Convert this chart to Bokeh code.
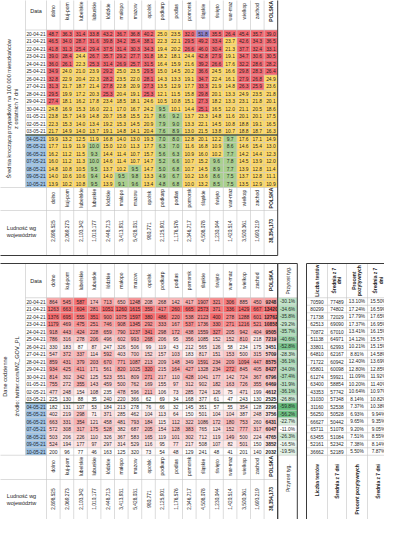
import numpy as np
from bokeh.plotting import figure
from bokeh.models import Range1d
from bokeh.embed import file_html
from bokeh.resources import INLINE
from bokeh.core.properties import value

# ---------------- data ----------------
dates = ["20-04-21", "21-04-21", "22-04-21", "23-04-21", "24-04-21", "25-04-21", "26-04-21",
         "27-04-21", "28-04-21", "29-04-21", "30-04-21", "01-05-21", "02-05-21", "03-05-21",
         "04-05-21", "05-05-21", "06-05-21", "07-05-21", "08-05-21", "09-05-21", "10-05-21"]
regions = ["dolno", "kuj-pom", "lubelskie", "lubuskie", "łódzkie", "małopo", "mazow", "opolsk",
           "podkarp", "podlas", "pomorsk", "śląskie", "święto", "war-maz", "wielkop", "zachod", "POLSKA"]
population = ["2,898,525", "2,069,273", "2,103,342", "1,010,177", "2,448,713", "3,413,931",
              "5,428,031", "980,771", "2,125,901", "1,176,576", "2,346,717", "4,508,078",
              "1,230,044", "1,420,514", "3,500,361", "1,693,219", "38,354,173"]

# 7-day average of cases per 100 000 inhabitants
avg_dolno = [48.7, 46.5, 41.8, 39.0, 36.0, 34.9, 32.8, 31.3, 29.5, 27.4, 24.8, 23.8, 22.3, 21.7, 19.9, 17.7, 16.2, 16.0, 14.8, 14.0, 13.9]
avg_kujpom = [36.3, 34.0, 31.3, 28.4, 26.1, 24.0, 22.9, 21.7, 19.9, 18.1, 16.9, 15.7, 15.3, 14.9, 13.2, 11.9, 11.2, 11.2, 10.8, 10.6, 10.2]
avg_lubel = [31.4, 28.7, 25.4, 24.4, 22.3, 21.0, 20.4, 18.7, 17.2, 16.2, 15.3, 14.9, 14.0, 14.0, 12.5, 11.9, 11.5, 11.3, 10.5, 10.6, 10.8]
avg_lubus = [33.8, 31.6, 29.4, 26.7, 25.3, 23.9, 22.3, 21.4, 20.3, 17.8, 16.0, 14.8, 13.4, 13.7, 11.9, 9.98, 9.3, 9.97, 9.5, 9.4, 9.5]
avg_lodz = [43.2, 39.8, 37.5, 35.7, 31.4, 29.2, 28.2, 27.8, 25.3, 23.4, 22.1, 20.7, 19.2, 19.1, 16.8, 15.0, 14.4, 14.6, 13.7, 14.0, 13.9]
avg_malop = [36.7, 34.2, 31.4, 29.2, 26.9, 25.0, 23.5, 22.8, 20.4, 18.5, 17.0, 15.8, 15.3, 14.8, 14.0, 12.0, 11.4, 11.4, 10.2, 9.5, 9.1]
avg_mazow = [36.8, 35.4, 30.3, 27.7, 25.7, 23.5, 22.0, 20.9, 19.1, 18.1, 16.7, 15.5, 14.5, 14.1, 13.0, 11.3, 10.7, 10.7, 9.5, 9.8, 9.6]
avg_opol = [40.2, 38.1, 34.3, 31.8, 31.5, 29.5, 28.1, 27.3, 25.3, 24.6, 24.2, 21.7, 20.9, 20.4, 19.3, 17.7, 15.7, 14.7, 14.7, 13.3, 13.4]
avg_podkarp = [25.0, 22.3, 19.4, 18.2, 16.4, 15.0, 14.3, 13.5, 12.1, 10.5, 9.5, 8.6, 7.9, 7.6, 7.0, 6.3, 5.6, 5.2, 5.0, 4.9, 4.8]
avg_podlas = [23.5, 22.1, 20.2, 18.1, 15.9, 14.5, 13.3, 12.9, 11.5, 10.8, 10.1, 9.2, 9.0, 8.9, 8.0, 7.0, 6.3, 6.6, 6.8, 6.7, 6.8]
avg_pomorsk = [32.0, 29.5, 26.6, 24.4, 21.6, 20.2, 19.1, 17.7, 15.8, 15.1, 14.4, 13.7, 13.3, 13.0, 12.8, 11.6, 10.9, 10.7, 10.7, 10.2, 10.02]
avg_slask = [51.8, 49.2, 46.0, 42.8, 39.2, 36.6, 34.7, 33.3, 29.8, 27.3, 25.1, 23.3, 22.1, 21.5, 20.1, 16.8, 16.0, 15.2, 14.5, 13.6, 13.2]
avg_swieto = [35.5, 33.4, 30.4, 27.9, 26.6, 24.5, 22.4, 21.9, 20.1, 18.2, 16.5, 14.8, 14.5, 13.8, 12.2, 10.9, 10.2, 9.6, 8.9, 8.6, 8.5]
avg_warmaz = [26.4, 23.7, 21.3, 19.1, 17.6, 16.6, 16.1, 14.8, 13.3, 13.3, 12.0, 11.6, 10.8, 10.7, 9.7, 8.6, 7.7, 7.8, 7.7, 7.5, 7.5]
avg_wielkop = [45.4, 42.6, 37.7, 34.7, 32.2, 29.8, 27.9, 26.3, 24.9, 23.1, 21.1, 20.1, 18.8, 18.8, 17.6, 14.6, 14.2, 14.5, 13.9, 13.7, 13.5]
avg_zachod = [35.7, 34.3, 32.4, 30.6, 28.6, 28.3, 26.8, 25.9, 23.5, 21.8, 20.5, 20.1, 19.1, 18.7, 17.1, 15.4, 14.4, 13.9, 12.8, 12.8, 12.9]
avg_polska = [39.0, 36.5, 33.1, 30.5, 28.2, 26.4, 24.9, 23.6, 21.8, 20.1, 18.6, 17.5, 16.5, 16.3, 14.9, 13.0, 12.3, 12.0, 11.4, 11.1, 10.9]

# daily cases
cases_dolno = [864, 1263, 1376, 1179, 918, 786, 330, 547, 859, 934, 814, 755, 477, 225, 182, 402, 663, 572, 503, 524, 200]
cases_kujpom = [545, 663, 695, 469, 443, 316, 183, 372, 431, 425, 302, 272, 248, 130, 131, 219, 331, 308, 206, 194, 96]
cases_lubel = [587, 604, 555, 475, 424, 278, 87, 337, 379, 411, 342, 355, 154, 88, 107, 298, 354, 317, 226, 177, 77]
cases_lubus = [174, 281, 351, 251, 228, 206, 87, 114, 203, 171, 125, 143, 108, 35, 53, 71, 121, 175, 110, 97, 46]
cases_lodz = [713, 1051, 900, 746, 659, 496, 247, 592, 670, 561, 523, 459, 235, 240, 184, 371, 458, 528, 326, 297, 163]
cases_malop = [650, 1260, 1075, 908, 790, 602, 326, 403, 771, 820, 551, 500, 478, 220, 213, 285, 481, 382, 367, 314, 125]
cases_mazow = [1248, 1615, 1597, 1345, 1237, 993, 506, 700, 1087, 1025, 809, 762, 596, 366, 278, 462, 793, 687, 583, 529, 320]
cases_opol = [208, 359, 380, 292, 341, 268, 99, 152, 213, 320, 271, 169, 211, 62, 76, 104, 184, 205, 165, 116, 73]
cases_podkarp = [268, 417, 486, 333, 298, 206, 119, 157, 209, 215, 217, 155, 106, 69, 66, 113, 115, 154, 119, 95, 54]
cases_podlas = [142, 260, 220, 167, 172, 95, 43, 103, 148, 164, 110, 97, 73, 34, 32, 64, 112, 128, 101, 77, 48]
cases_pomorsk = [417, 665, 538, 537, 438, 356, 212, 183, 349, 427, 428, 312, 285, 168, 145, 150, 322, 383, 302, 217, 129]
cases_slask = [1907, 2573, 2123, 1736, 1559, 1085, 565, 817, 1591, 1328, 1041, 902, 724, 377, 351, 501, 1086, 765, 712, 508, 241]
cases_swieto = [321, 371, 400, 330, 327, 152, 126, 151, 234, 234, 177, 182, 126, 61, 57, 104, 172, 124, 119, 107, 48]
cases_warmaz = [306, 336, 278, 271, 205, 152, 58, 153, 209, 272, 142, 163, 75, 47, 55, 104, 180, 152, 149, 82, 41]
cases_wielkop = [885, 1429, 1288, 1216, 942, 810, 234, 500, 1094, 845, 724, 726, 471, 243, 354, 387, 753, 777, 500, 501, 201]
cases_zachod = [450, 667, 601, 521, 404, 218, 175, 315, 447, 405, 367, 355, 199, 130, 128, 248, 260, 317, 224, 150, 140]
cases_polska = [9248, 13420, 12762, 10858, 9505, 7219, 3451, 5709, 8575, 8427, 6796, 6469, 4612, 2525, 2296, 3756, 6431, 6047, 4765, 3852, 2032]
weekly_change = [-30.1, -34.6, -35.8, -29.2, -35.7, -40.6, -52.8, -28.3, -36.1, -34.0, -37.4, -31.9, -36.1, -26.8,
                 -59.8, -56.2, -22.7, -11.0, -26.3, -16.5, -19.5]

# tests
tests = [70590, 80299, 71738, 62513, 70872, 51138, 33801, 64810, 71722, 65801, 61274, 63400, 43353, 31030,
         31160, 56250, 66627, 65711, 63455, 52161, 36662]
tests_avg7 = [77489, 74802, 72029, 69090, 67010, 64971, 62993, 62167, 60942, 60098, 59921, 58854, 57742, 57348,
              52538, 50528, 50442, 51078, 51084, 52342, 52189]
positive_pct = [13.10, 17.24, 17.79, 17.37, 13.41, 14.12, 10.21, 8.81, 12.40, 12.80, 11.09, 10.20, 10.64, 8.14,
                7.37, 6.93, 9.65, 9.20, 7.51, 7.38, 5.50]
positive_avg7 = [15.50, 16.59, 17.65, 16.95, 16.15, 15.57, 15.15, 14.58, 13.69, 12.85, 11.92, 11.40, 10.97, 10.82,
                 10.38, 9.94, 9.35, 9.05, 8.55, 8.14, 7.87]

avg_cols = [avg_dolno, avg_kujpom, avg_lubel, avg_lubus, avg_lodz, avg_malop, avg_mazow, avg_opol, avg_podkarp,
            avg_podlas, avg_pomorsk, avg_slask, avg_swieto, avg_warmaz, avg_wielkop, avg_zachod, avg_polska]
case_cols = [cases_dolno, cases_kujpom, cases_lubel, cases_lubus, cases_lodz, cases_malop, cases_mazow, cases_opol,
             cases_podkarp, cases_podlas, cases_pomorsk, cases_slask, cases_swieto, cases_warmaz, cases_wielkop,
             cases_zachod, cases_polska]

# ---------------- layout ----------------
FONT = value("Liberation Sans")
TXT = "#262626"
GRID = "#c4c4c4"
DARK = "#3a3a3a"
X_LBL, X_DATE, X_COL0, COL_W = 4.0, 33.0, 54.0, 13.6
ROW_H = 7.5
NC, NR = len(regions), len(dates)
X_END = X_COL0 + COL_W * NC
X_PRZ = X_END + 19.6
SMALL_X = [314.0, 335.0, 354.0, 375.0, 397.0]

p = figure(width=384, height=519, x_range=Range1d(8, 392), y_range=Range1d(527, 8),
           output_backend="svg", toolbar_location=None, min_border=0,
           x_axis_location=None, y_axis_location=None)
p.xgrid.visible = False
p.ygrid.visible = False
p.outline_line_color = None
p.background_fill_color = "white"
p.border_fill_color = "white"


def mix(c1, c2, t):
    r = [int(round(a + (b - a) * t)) for a, b in zip(c1, c2)]
    return "#%02x%02x%02x" % tuple(r)


def avg_color(v):
    if v > 50:
        return "#9181cc"
    if v > 25:
        return "#f4666e"
    if v < 10:
        return "#a9d08e"
    return "#ffd966"


def text(xs, ys, ts, size="5px", align="center", angle=0.0, bold=False, color=TXT):
    p.text(x=xs, y=ys, text=ts, text_font=FONT, text_font_size=size, text_align=align,
           text_baseline="middle", angle=angle, text_color=color,
           text_font_style="bold" if bold else "normal")


def hlines(y_list, x0, x1, color=GRID, width=0.6):
    p.segment(x0=[x0] * len(y_list), x1=[x1] * len(y_list), y0=y_list, y1=y_list,
              line_color=color, line_width=width)


def vlines(x_list, y0, y1, color=GRID, width=0.6):
    p.segment(x0=x_list, x1=x_list, y0=[y0] * len(x_list), y1=[y1] * len(x_list),
              line_color=color, line_width=width)


def box(x0, y0, x1, y1):
    p.quad(left=x0, right=x1, top=y0, bottom=y1, fill_color=None, line_color=DARK, line_width=1)


def main_table(top, hdr_b, names_b, pop_b, values, colors, fmt, bold_last, left_lines):
    rows_b = hdr_b + ROW_H * NR
    L, R, T, B, C = [], [], [], [], []
    for j in range(NC):
        for i in range(NR):
            L.append(X_COL0 + COL_W * j)
            R.append(X_COL0 + COL_W * (j + 1))
            T.append(hdr_b + ROW_H * i)
            B.append(hdr_b + ROW_H * (i + 1))
            C.append(colors[j][i])
    p.quad(left=L, right=R, top=T, bottom=B, fill_color=C, line_color=None)
    # blue date cells (04-05 onward)
    blue_i = [i for i, d in enumerate(dates) if d.endswith("-05-21") and int(d[:2]) >= 4]
    p.quad(left=[X_DATE] * len(blue_i), right=[X_COL0] * len(blue_i),
           top=[hdr_b + ROW_H * i for i in blue_i], bottom=[hdr_b + ROW_H * (i + 1) for i in blue_i],
           fill_color="#9dc3e6", line_color=None)
    # grid
    hlines([hdr_b + ROW_H * k for k in range(NR)], X_DATE, X_END)
    hlines([rows_b, names_b], X_LBL, X_END)
    vlines([X_DATE], top, rows_b)
    vlines([X_COL0 + COL_W * j for j in range(NC)], top, pop_b)
    # thick separator before 04-05
    sep = hdr_b + ROW_H * dates.index("04-05-21")
    hlines([sep], X_DATE, X_END, color="#4d5a4a", width=1.6)
    box(X_LBL, top, X_END, pop_b)
    # headers
    cx = [X_COL0 + COL_W * (j + 0.5) for j in range(NC)]
    text([X_DATE + 10.5], [(top + hdr_b) / 2], ["Data"], size="5.5px")
    text(cx[:-1], [(top + hdr_b) / 2] * (NC - 1), regions[:-1], angle=np.pi / 2)
    text(cx[-1:], [(top + hdr_b) / 2], regions[-1:], angle=np.pi / 2, bold=True)
    text(cx[:-1], [(rows_b + names_b) / 2 - 1] * (NC - 1), regions[:-1], angle=np.pi / 2)
    text(cx[-1:], [(rows_b + names_b) / 2 - 1], regions[-1:], angle=np.pi / 2, bold=True)
    yp = (names_b + pop_b) / 2 - 2
    text(cx[:-1], [yp] * (NC - 1), population[:-1], size="4.8px", angle=np.pi / 2)
    text(cx[-1:], [yp], population[-1:], size="4.8px", angle=np.pi / 2, bold=True)
    text([X_LBL + 25, X_LBL + 25], [yp - 3.5, yp + 3.5], ["Ludność wg", "województw"], size="5.5px")
    # dates
    text([X_DATE + 10.5] * NR, [hdr_b + ROW_H * (i + 0.5) for i in range(NR)], dates, size="4.8px")
    # values
    for j in range(NC):
        text([cx[j]] * NR, [hdr_b + ROW_H * (i + 0.5) for i in range(NR)], [fmt(v) for v in values[j]],
             size="4.9px", bold=(bold_last and j == NC - 1))
    # left label
    mid = (hdr_b + rows_b) / 2
    text([X_LBL + left_lines[0][0], X_LBL + left_lines[1][0]], [mid, mid],
         [left_lines[0][1], left_lines[1][1]], size="5.6px", angle=np.pi / 2)
    return rows_b


# ---- table 1: 7-day average per 100k ----
colors1 = [[avg_color(v) for v in col] for col in avg_cols]
main_table(0.0, 37.5, 218.0, 263.0, avg_cols, colors1, lambda v: f"{v:.1f}", False,
           [(12.0, "Średnia krocząca przypadków na 100 000 mieszkańców"), (19.5, "z ostatnich 7 dni")])

# ---- table 2: daily cases ----
RED = (248, 105, 107)
WHITE = (255, 255, 255)
colors2 = []
for col in case_cols:
    lo, hi = min(col), max(col)
    colors2.append([mix(WHITE, RED, (v - lo) / (hi - lo)) for v in col])
T2, H2 = 271.0, 305.25
rows_b2 = main_table(T2, H2, 487.0, 530.0, case_cols, colors2, lambda v: f"{v}", True,
                     [(8.5, "Dane codzienne"), (20.0, "źródło: twitter.com/MZ_GOV_PL")])

# weekly change column
GREEN = (99, 190, 123)
lo, hi = min(weekly_change), max(weekly_change)
gcol = [mix(WHITE, GREEN, (hi - v) / (hi - lo)) for v in weekly_change]
p.quad(left=[X_END] * NR, right=[X_PRZ] * NR, top=[H2 + ROW_H * i for i in range(NR)],
       bottom=[H2 + ROW_H * (i + 1) for i in range(NR)], fill_color=gcol, line_color=None)
hlines([H2 + ROW_H * k for k in range(NR + 1)], X_END, X_PRZ)
box(X_END, T2, X_PRZ, 530.0)
xm = (X_END + X_PRZ) / 2
text([xm] * NR, [H2 + ROW_H * (i + 0.5) for i in range(NR)], [f"{v:.1f}%" for v in weekly_change], size="4.8px")
text([xm], [(T2 + H2) / 2], ["Przyrost tyg."], size="5px", angle=np.pi / 2)
text([xm], [rows_b2 + 9], ["Przyrost tyg."], size="5px", angle=np.pi / 2, align="right")

# ---- small tests table ----
hlines([H2 + ROW_H * k for k in range(NR + 1)], SMALL_X[0], SMALL_X[-1])
vlines(SMALL_X[1:-1], T2, 530.0)
box(SMALL_X[0], T2, SMALL_X[-1], 530.0)
scx = [(SMALL_X[k] + SMALL_X[k + 1]) / 2 for k in range(4)]
ys = [H2 + ROW_H * (i + 0.5) for i in range(NR)]
text([scx[0]] * NR, ys, [f"{v}" for v in tests], size="4.8px")
text([scx[1]] * NR, ys, [f"{v}" for v in tests_avg7], size="4.8px")
text([scx[2]] * NR, ys, [f"{v:.2f}%" for v in positive_pct], size="4.8px")
text([scx[3]] * NR, ys, [f"{v:.2f}%" for v in positive_avg7], size="4.8px")
hy = (T2 + H2) / 2
text([scx[0]], [hy], ["Liczba testów"], size="4.9px", angle=np.pi / 2, bold=True)
text([scx[1] - 2.8, scx[1] + 2.8], [hy, hy], ["Średnia z 7", "dni"], size="4.9px", angle=np.pi / 2, bold=True)
text([scx[2] - 2.8, scx[2] + 2.8], [hy, hy], ["Procent", "pozytywnych"], size="4.9px", angle=np.pi / 2, bold=True)
text([scx[3] - 2.8, scx[3] + 2.8], [hy, hy], ["Średnia z 7", "dni"], size="4.9px", angle=np.pi / 2, bold=True)
text(scx, [rows_b2 + 9] * 4, ["Liczba testów", "Średnia z 7 dni", "Procent pozytywnych", "Średnia z 7 dni"],
     size="4.9px", angle=np.pi / 2, bold=True, align="right")

open("out.html", "w").write(file_html(p, INLINE))
